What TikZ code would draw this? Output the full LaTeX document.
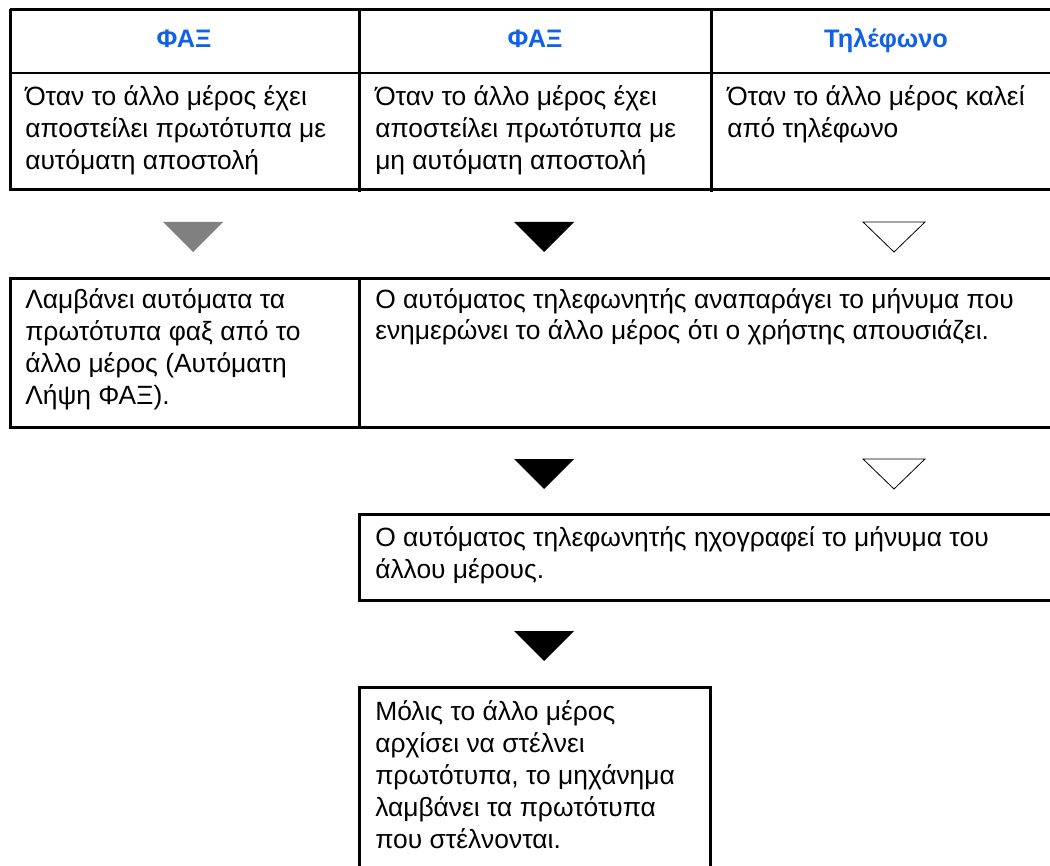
\documentclass[tikz,border=0pt]{standalone}
\usepackage{fontspec}
\setmainfont{Liberation Sans}
\usetikzlibrary{calc}
\definecolor{headblue}{RGB}{16,96,232}
\definecolor{trigray}{RGB}{128,128,128}

\begin{document}
\begin{tikzpicture}[x=0.75pt, y=-0.75pt, line join=miter,
    frame/.style={line width=2.25pt},
    head/.style={anchor=base, text=headblue, inner sep=0pt, font=\fontsize{19}{23}\selectfont\bfseries},
    txt/.style={anchor=base west, align=left, inner sep=0pt, font=\fontsize{19.8}{24}\selectfont}]
    \useasboundingbox (0,0) rectangle (1050,866);

    % Πίνακας (επικεφαλίδες)
    \draw[frame] (10,10) -- (1050,10);
    \draw[line width=1.5pt] (10,73.5) -- (1050,73.5);
    \draw[frame] (10,190) -- (1050,190);
    \draw[frame] (10,8.9) -- (10,191.1);
    \draw[frame] (359,8.9) -- (359,192);
    \draw[frame] (711,8.9) -- (711,192);
    \node[head] (hdfaxa) at (184,48) {ΦΑΞ};
    \node[head] (hdfaxb) at (535,48) {ΦΑΞ};
    \node[head] (hdtel) at (886,48) {Τηλέφωνο};
    % (το base είναι η τελευταία γραμμή)
    \node[txt] (conda) at (25,170) {Όταν το άλλο μέρος έχει\\αποστείλει πρωτότυπα με\\αυτόματη αποστολή};
    \node[txt] (condb) at (375,170) {Όταν το άλλο μέρος έχει\\αποστείλει πρωτότυπα με\\μη αυτόματη αποστολή};
    \node[txt] (condc) at (727,138) {Όταν το άλλο μέρος καλεί\\από τηλέφωνο};

    % Τρίγωνα, 1η σειρά
    \fill[trigray] (163,222) -- (223,222) -- (193,252) -- cycle;
    \fill[black] (514,222) -- (574,222) -- (544,252) -- cycle;
    \draw[line width=0.6pt] (863,222) -- (925,222) -- (894,252) -- cycle;

    % 2η σειρά
    \draw[frame] (10,279) rectangle (359,427);
    \draw[frame] (1050,279) -- (359,279) -- (359,427) -- (1050,427);
    \node[txt] (autorx) at (25,404) {Λαμβάνει αυτόματα τα\\πρωτότυπα φαξ από το\\άλλο μέρος (Αυτόματη\\Λήψη ΦΑΞ).};
    \node[txt] (playmsg) at (375,340) {Ο αυτόματος τηλεφωνητής αναπαράγει το μήνυμα που\\ενημερώνει το άλλο μέρος ότι ο χρήστης απουσιάζει.};

    % Τρίγωνα, 2η σειρά
    \fill[black] (514,459) -- (574,459) -- (544,489) -- cycle;
    \draw[line width=0.6pt] (863,459) -- (925,459) -- (894,489) -- cycle;

    % Ηχογράφηση μηνύματος
    \draw[frame] (1050,514) -- (359,514) -- (359,600) -- (1050,600);
    \node[txt] (recmsg) at (375,578) {Ο αυτόματος τηλεφωνητής ηχογραφεί το μήνυμα του\\άλλου μέρους.};

    \fill[black] (514,631) -- (574,631) -- (544,661) -- cycle;

    % Λήψη πρωτοτύπων
    \draw[frame] (359,870) -- (359,687) -- (710,687) -- (710,870);
    \node[txt] (rxdoc) at (375,848) {Μόλις το άλλο μέρος\\αρχίσει να στέλνει\\πρωτότυπα, το μηχάνημα\\λαμβάνει τα πρωτότυπα\\που στέλνονται.};
\end{tikzpicture}
\end{document}
